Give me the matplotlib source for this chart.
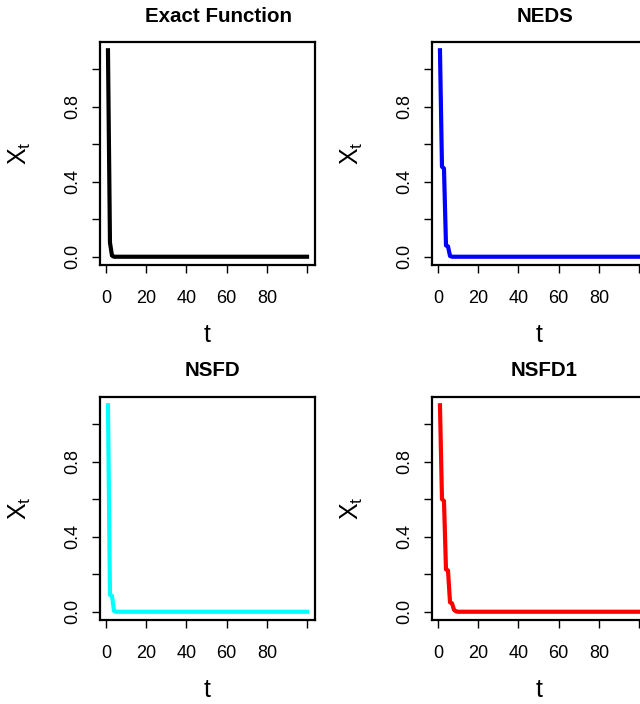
import matplotlib
matplotlib.use('Agg')
from matplotlib import pyplot as plt
import numpy as np

plt.rcParams['font.family'] = ['Liberation Sans', 'DejaVu Sans']
plt.rcParams['mathtext.fontset'] = 'custom'
plt.rcParams['mathtext.rm'] = 'Liberation Sans'
plt.rcParams['mathtext.it'] = 'Liberation Sans'

t = np.arange(1, 101)
# values, all later points sit on zero
exact = [1.1, 0.075, 0.006] + [0.0] * 97
neds = [1.1, 0.48, 0.47, 0.06, 0.055, 0.004] + [0.0] * 94
nsfd = [1.1, 0.09, 0.085, 0.004] + [0.0] * 96
nsfd1 = [1.1, 0.6, 0.59, 0.225, 0.22, 0.05, 0.045, 0.01, 0.002] + [0.0] * 91

titles = ['Exact Function', 'NEDS', 'NSFD', 'NSFD1']
series = [exact, neds, nsfd, nsfd1]
colors = ['black', 'blue', 'cyan', 'red']

xticks = [0, 20, 40, 60, 80, 100]
xticklabels = ['0', '20', '40', '60', '80', '']
yticks = [0.0, 0.2, 0.4, 0.6, 0.8, 1.0]
yticklabels = ['0.0', '', '0.4', '', '0.8', '']

W, H = 640, 704
fig = plt.figure(figsize=(6.4, 7.04), dpi=100)
# box positions in pixels: (left, top); title shift in pixels
boxes = [(100, 42), (432, 42), (100, 397), (432, 397)]
shifts = [11, 5, 4.5, 5]
bw, bh = 215, 223

for (lx, ty), dx, title, y, c in zip(boxes, shifts, titles, series, colors):
    ax = fig.add_axes([lx / W, 1 - (ty + bh) / H, bw / W, bh / H])
    ax.plot(t, y, color=c, linewidth=3, solid_joinstyle='round')
    ax.set_xlim(-2.96, 103.96)
    ax.set_ylim(-0.044, 1.144)
    ax.set_xticks(xticks)
    ax.set_xticklabels(xticklabels)
    ax.set_yticks(yticks)
    ax.set_yticklabels(yticklabels, rotation=90, va='center')
    ax.tick_params(direction='out', length=5.8, width=1, labelsize=13)
    ax.tick_params(axis='x', pad=12)
    ax.tick_params(axis='y', pad=8)
    for s in ax.spines.values():
        s.set_linewidth(1.6)
    ax.text(0.5 + dx / bw, 1.0 + 26 / bh, title, transform=ax.transAxes,
            ha='center', va='center', fontsize=14.8, fontweight='bold')
    ax.text(0.5, -70 / bh, 't', transform=ax.transAxes, ha='center',
            va='center', fontsize=18)
    ax.text(-80 / bw, 0.5, r'$\mathregular{X_t}$', transform=ax.transAxes,
            ha='center', va='center', fontsize=18, rotation=90)

fig.savefig('out.png', dpi=100)
